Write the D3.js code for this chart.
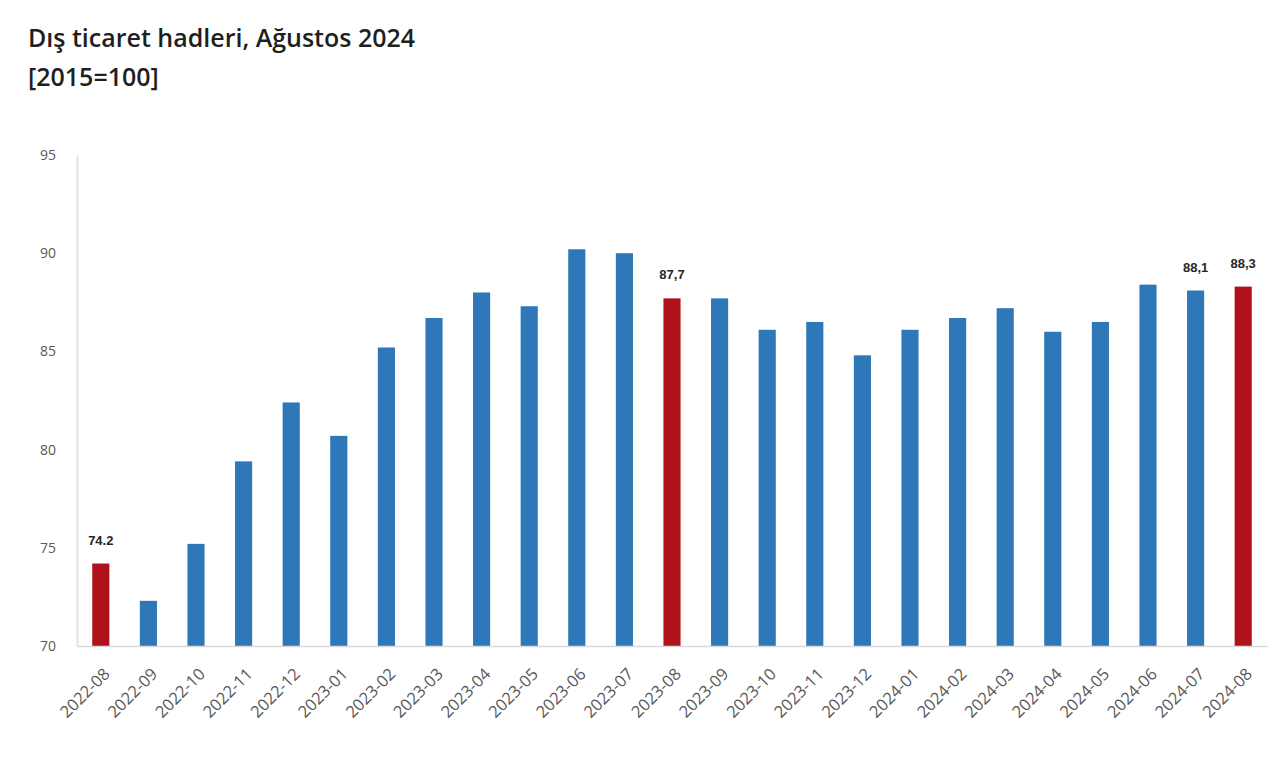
<!DOCTYPE html>
<html lang="tr">
<head>
<meta charset="UTF-8">
<title>Dış ticaret hadleri</title>
<script src="https://cdnjs.cloudflare.com/ajax/libs/d3/7.8.5/d3.min.js"></script>
<style>
  body { margin: 0; background: #fff; }
</style>
</head>
<body>
<div id="chart"></div>
<script>
// data
var months = ["2022-08","2022-09","2022-10","2022-11","2022-12","2023-01","2023-02","2023-03",
  "2023-04","2023-05","2023-06","2023-07","2023-08","2023-09","2023-10","2023-11","2023-12",
  "2024-01","2024-02","2024-03","2024-04","2024-05","2024-06","2024-07","2024-08"];
var values = [74.2,72.3,75.2,79.4,82.4,80.7,85.2,86.7,88.0,87.3,90.2,90.0,87.7,87.7,86.1,86.5,84.8,
  86.1,86.7,87.2,86.0,86.5,88.4,88.1,88.3];
var highlighted = ["2022-08","2023-08","2024-08"];
var labelled = {"2022-08": "74.2", "2023-08": "87,7", "2024-07": "88,1", "2024-08": "88,3"};
var yTicks = [70, 75, 80, 85, 90, 95];

var W = 1280, H = 760;
var mLeft = 77, mRight = 1267, mTop = 155, mBottom = 646;

var svg = d3.select("#chart").append("svg")
  .attr("width", W).attr("height", H);

// title
svg.append("text").attr("x", 28).attr("y", 47)
  .attr("font-family", "Open Sans").attr("font-weight", 600).attr("font-size", "25px")
  .attr("fill", "#1f1f1f").text("Dış ticaret hadleri, Ağustos 2024");
svg.append("text").attr("x", 28).attr("y", 86)
  .attr("font-family", "Open Sans").attr("font-weight", 600).attr("font-size", "25px")
  .attr("fill", "#1f1f1f").text("[2015=100]");

var x = d3.scaleBand().domain(months).range([mLeft, mRight]).paddingInner(0.64).paddingOuter(0.32);
var y = d3.scaleLinear().domain([70, 95]).range([mBottom, mTop]);

// y axis
var yAxis = svg.append("g").attr("transform", "translate(" + mLeft + ",0)")
  .call(d3.axisLeft(y).tickValues(yTicks).tickSize(0).tickPadding(21));
yAxis.select(".domain").attr("stroke", "#e3e3e3").attr("stroke-width", 2);
yAxis.selectAll("text").attr("font-family", "Open Sans").attr("font-size", "14px").attr("fill", "#595959");

// bars
svg.selectAll("rect.bar").data(months).enter().append("rect")
  .attr("class", "bar")
  .attr("x", function(d) { return x(d); })
  .attr("width", x.bandwidth())
  .attr("y", function(d, i) { return y(values[i]); })
  .attr("height", function(d, i) { return mBottom - y(values[i]); })
  .attr("fill", function(d) { return highlighted.indexOf(d) >= 0 ? "#b0121b" : "#2e77b8"; });

// x axis, labels turned 45 degrees
var xAxis = svg.append("g").attr("transform", "translate(0," + mBottom + ")")
  .call(d3.axisBottom(x).tickSize(0).tickSizeOuter(0));
xAxis.select(".domain").attr("stroke", "#d9d9d9").attr("stroke-width", 1.5);
xAxis.selectAll("text")
  .attr("font-family", "Open Sans").attr("font-size", "16.5px").attr("fill", "#595959")
  .attr("text-anchor", "end")
  .attr("x", 0).attr("y", 0).attr("dx", 0).attr("dy", "0.35em")
  .attr("transform", "translate(6,25) rotate(-45)");

// value labels
svg.selectAll("text.val").data(months.filter(function(d) { return labelled[d]; })).enter()
  .append("text").attr("class", "val")
  .attr("x", function(d) { return x(d) + x.bandwidth() / 2; })
  .attr("y", function(d) { return y(values[months.indexOf(d)]) - 19; })
  .attr("text-anchor", "middle")
  .attr("font-family", "Liberation Sans").attr("font-weight", "bold").attr("font-size", "13px")
  .attr("fill", "#262626")
  .text(function(d) { return labelled[d]; });
</script>
</body>
</html>
